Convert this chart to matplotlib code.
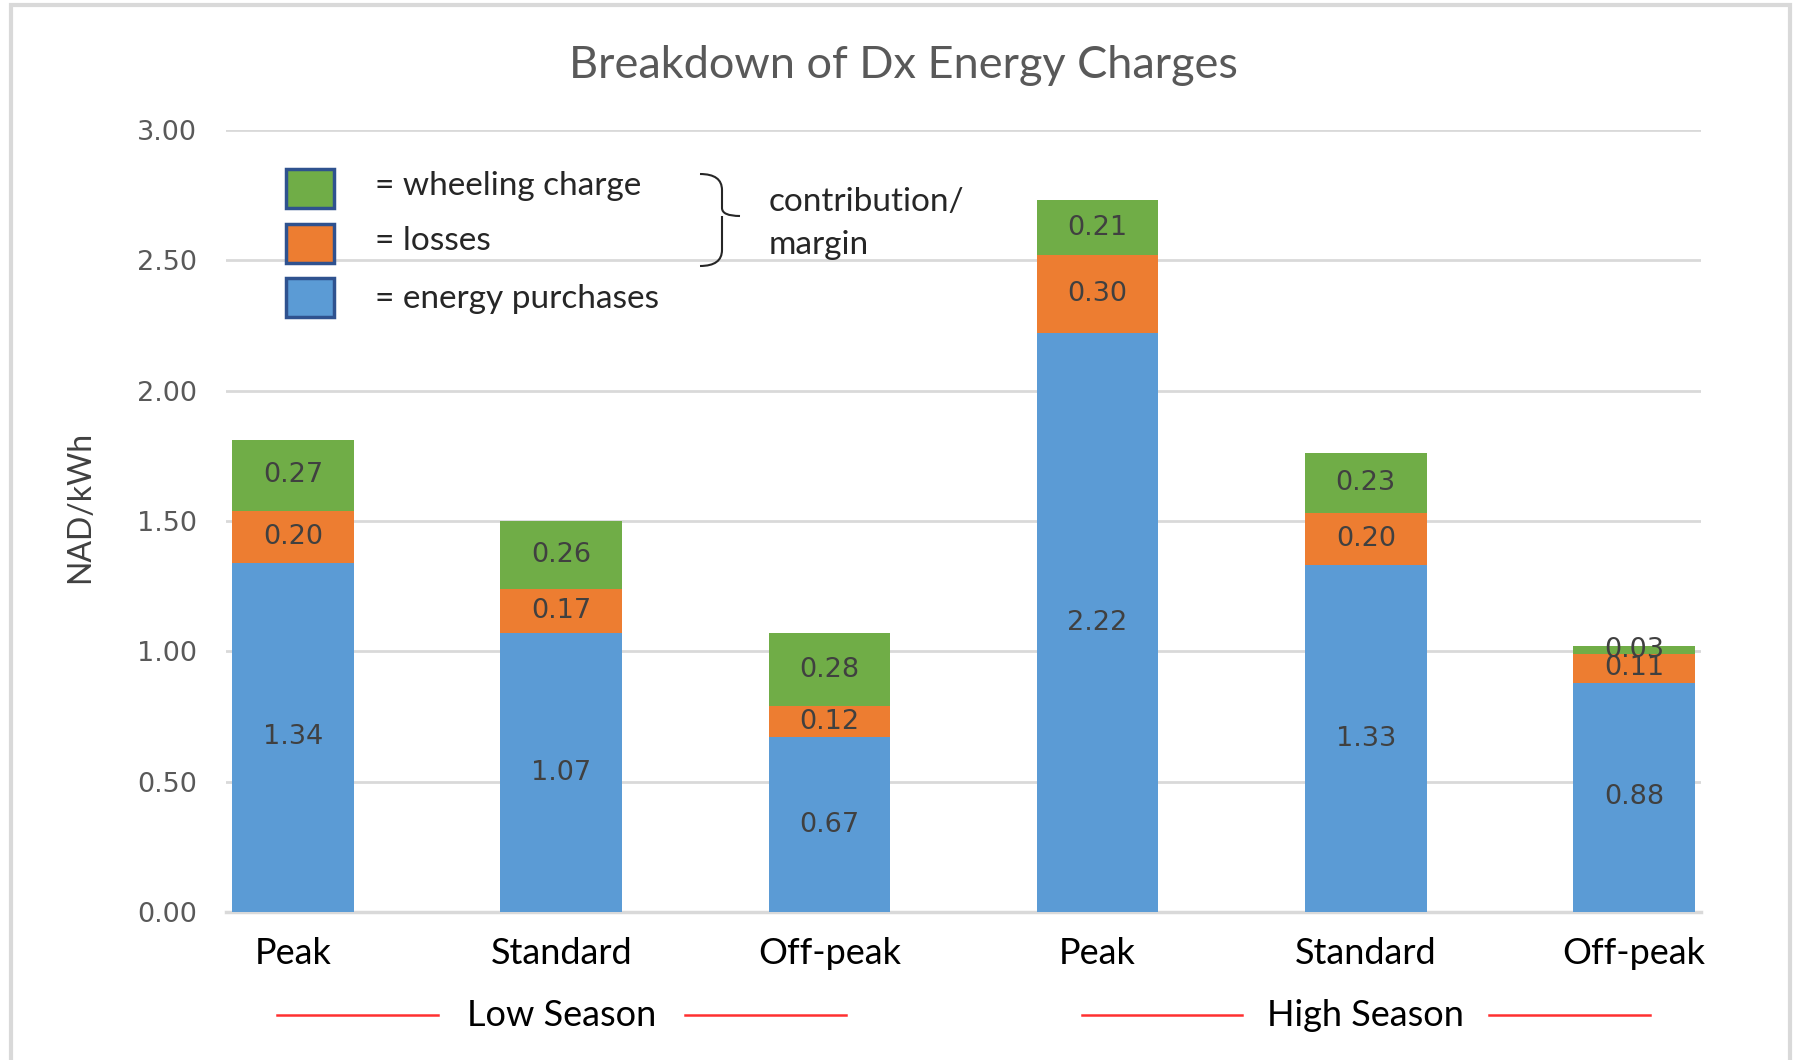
import matplotlib
matplotlib.use("Agg")
import matplotlib.pyplot as plt
import numpy as np
from matplotlib.patches import Rectangle, PathPatch
from matplotlib.path import Path
import matplotlib.transforms as mtransforms

# --- Data ---
periods = ["Peak", "Standard", "Off-peak", "Peak", "Standard", "Off-peak"]
seasons = ["Low Season", "High Season"]
energy = [1.34, 1.07, 0.67, 2.22, 1.33, 0.88]
losses = [0.20, 0.17, 0.12, 0.30, 0.20, 0.11]
wheeling = [0.27, 0.26, 0.28, 0.21, 0.23, 0.03]

BLUE = "#5B9BD5"
ORANGE = "#ED7D31"
GREEN = "#70AD47"
GRID = "#D9D9D9"
TXT = "#404040"
SANS = ["Lato", "DejaVu Sans"]

W, H = 1794, 1060


def fx(px):
    return px / W


def fy(py):
    return 1 - py / H


fig = plt.figure(figsize=(W / 100, H / 100), dpi=100)
ax = fig.add_axes([fx(226), fy(912), fx(1701) - fx(226), fy(130) - fy(912)])

x = np.arange(len(periods))
bw = 0.453
b1 = ax.bar(x, energy, bw, color=BLUE, zorder=3)
b2 = ax.bar(x, losses, bw, bottom=energy, color=ORANGE, zorder=3)
bottom3 = np.array(energy) + np.array(losses)
b3 = ax.bar(x, wheeling, bw, bottom=bottom3, color=GREEN, zorder=3)

# segment labels (centred in each segment)
for bars, vals, bots in [(b1, energy, np.zeros(6)), (b2, losses, energy), (b3, wheeling, bottom3)]:
    for bar, v, b in zip(bars, vals, bots):
        ax.text(bar.get_x() + bar.get_width() / 2, b + v / 2, f"{v:.2f}",
                ha="center", va="center", fontsize=19.5, color=TXT,
                family="DejaVu Sans", zorder=4)

ax.set_xlim(-0.25, 5.25)
ax.set_ylim(0, 3.0)
yt = np.arange(0, 3.01, 0.5)
ax.set_yticks(yt)
ax.set_yticklabels([f"{v:.2f}" for v in yt], fontsize=19.5, color="#595959",
                   family="DejaVu Sans")
ax.tick_params(axis="y", length=0, pad=21)
ax.yaxis.grid(True, color=GRID, linewidth=2, zorder=0)
ax.set_xticks(x)
ax.set_xticklabels(periods, fontsize=26, family=SANS, color="black")
ax.tick_params(axis="x", length=0, pad=18)
for s in ["top", "right", "left"]:
    ax.spines[s].set_visible(False)
ax.spines["bottom"].set_color(GRID)
ax.spines["bottom"].set_linewidth(2.5)

# season labels flanked by red lines
trans = mtransforms.blended_transform_factory(ax.transData, fig.transFigure)
for centre, name in zip([1, 4], seasons):
    fig.text(centre, fy(1016), name, transform=trans, fontsize=26, family=SANS,
             ha="center", va="center", color="black")
    for a, b in [(-1.06, -0.46), (0.46, 1.06)]:
        fig.add_artist(plt.Line2D([centre + a, centre + b], [fy(1015), fy(1015)],
                                  transform=trans, color="#FF3030", linewidth=1.8))

# title and y label
fig.text(fx(903), fy(65), "Breakdown of Dx Energy Charges", fontsize=32.5,
         family=SANS, color="#595959", ha="center", va="center")
fig.text(fx(80), fy(507), "NAD/kWh", fontsize=23, family=SANS, color="#404040",
         rotation=90, ha="center", va="center")

# hand-drawn legend
legend_items = [("= wheeling charge", GREEN, 169, 186),
                ("= losses", ORANGE, 224, 241),
                ("= energy purchases", BLUE, 278, 299)]
for label, col, top, ty in legend_items:
    fig.add_artist(Rectangle((fx(286), fy(top + 39)), fx(48), 39 / H,
                             transform=fig.transFigure, facecolor=col,
                             edgecolor="#2F528F", linewidth=2.5))
    fig.text(fx(375), fy(ty), label, fontsize=24, family=SANS, color="#262626",
             ha="left", va="center")

# brace grouping the top two items
verts = [(700, 174), (722, 174), (722, 190), (722, 208), (722, 216), (740, 216),
         (722, 216), (722, 224), (722, 250), (722, 266), (700, 266)]
codes = [Path.MOVETO, Path.CURVE3, Path.CURVE3, Path.LINETO, Path.CURVE3, Path.CURVE3,
         Path.MOVETO, Path.CURVE3, Path.LINETO, Path.CURVE3, Path.CURVE3]
brace = Path([(fx(a), fy(b)) for a, b in verts], codes)
fig.add_artist(PathPatch(brace, transform=fig.transFigure, fill=False,
                         edgecolor="#262626", linewidth=1.5))
fig.text(fx(769), fy(202), "contribution/", fontsize=24, family=SANS,
         color="#262626", ha="left", va="center")
fig.text(fx(769), fy(245), "margin", fontsize=24, family=SANS,
         color="#262626", ha="left", va="center")

# chart area border
fig.add_artist(Rectangle((fx(11), -0.01), fx(1790) - fx(11), fy(5) + 0.01,
                         transform=fig.transFigure, fill=False,
                         edgecolor=GRID, linewidth=3))

fig.savefig("out.png", dpi=100, facecolor="white")
